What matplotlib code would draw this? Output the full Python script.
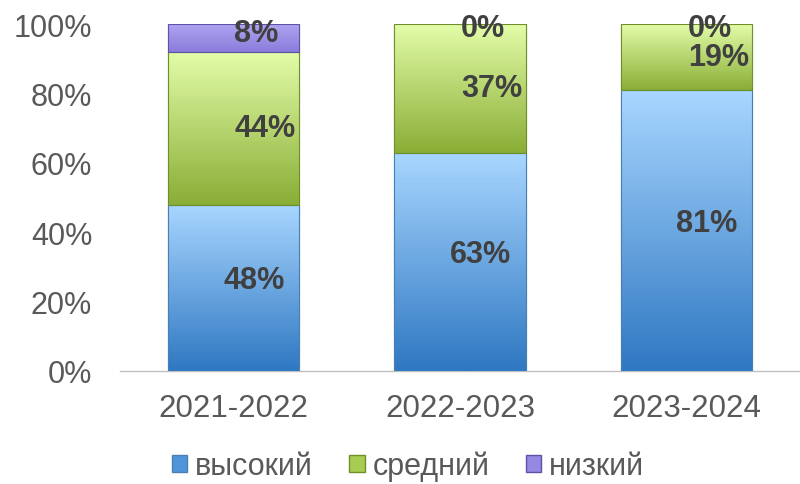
import numpy as np
import matplotlib.pyplot as plt
from matplotlib.colors import LinearSegmentedColormap
from matplotlib.patches import Patch

plt.rcParams['font.family'] = ['Liberation Sans', 'DejaVu Sans']

years = ['2021-2022', '2022-2023', '2023-2024']
high = [48, 63, 81]
mid = [44, 37, 19]
low = [8, 0, 0]
series_names = ['высокий', 'средний', 'низкий']

# gradient top -> bottom colours per series
grads = {
    'высокий': ('#a8d6ff', '#2f78c2'),
    'средний': ('#e2fca8', '#8aae36'),
    'низкий': ('#aea4f0', '#8a7cdc'),
}
edges = {'высокий': '#4a7fb5', 'средний': '#6f8f2a', 'низкий': '#5e52a8'}
solid = {'высокий': '#4f95d8', 'средний': '#a9cc55', 'низкий': '#9488e2'}
txt = '#595959'

fig = plt.figure(figsize=(8, 4.85), dpi=100)
ax = fig.add_axes([0.15, 0.233, 0.85, 0.715])

x = np.arange(len(years))
width = 0.58
bottom = np.zeros(len(years))
for name, vals in zip(series_names, [high, mid, low]):
    vals = np.array(vals, dtype=float)
    bars = ax.bar(x, vals, width, bottom=bottom, color=solid[name],
                  edgecolor=edges[name], linewidth=0.8, zorder=2)
    cmap = LinearSegmentedColormap.from_list(name, [grads[name][1], grads[name][0]])
    for b in bars:
        if b.get_height() <= 0:
            continue
        x0, y0 = b.get_x(), b.get_y()
        g = np.linspace(0, 1, 100).reshape(-1, 1)
        im = ax.imshow(g, cmap=cmap, origin='lower', aspect='auto',
                       extent=(x0, x0 + b.get_width(), y0, y0 + b.get_height()),
                       zorder=3)
        im.set_clip_path(b)
        ax.add_patch(plt.Rectangle((x0, y0), b.get_width(), b.get_height(),
                                   fill=False, edgecolor=edges[name], lw=0.8, zorder=4))
    bottom += vals

# data labels (Excel-like, slightly right of centre)
offsets = {'высокий': 0.09, 'средний': 0.14, 'низкий': 0.1}
bottom = np.zeros(len(years))
for name, vals in zip(series_names, [high, mid, low]):
    for i, v in enumerate(vals):
        yc = bottom[i] + v / 2
        if name == 'высокий':
            yc += 2.2
        if name == 'низкий':
            yc = 99 if v == 0 else yc + 1.5
        ax.text(x[i] + offsets[name], yc, f'{v}%', ha='center', va='center',
                fontsize=22, fontweight='bold', color='#404040', zorder=5,
                clip_on=False)
    bottom += np.array(vals)

ax.set_xlim(-0.5, 2.5)
ax.set_ylim(0, 100)
ax.set_yticks([0, 20, 40, 60, 80, 100])
ax.set_yticklabels([f'{t}%' for t in [0, 20, 40, 60, 80, 100]])
ax.set_xticks(x)
ax.set_xticklabels(years)
ax.tick_params(axis='y', length=0, labelsize=22, colors=txt, pad=20)
ax.tick_params(axis='x', length=0, labelsize=22.5, colors=txt, pad=16)
for s in ['top', 'right', 'left']:
    ax.spines[s].set_visible(False)
ax.spines['bottom'].set_color('#bfbfbf')
ax.spines['bottom'].set_linewidth(1)

handles = [Patch(facecolor=solid[n], edgecolor=edges[n]) for n in series_names]
fig.legend(handles, series_names, loc='center', bbox_to_anchor=(0.51, 0.037),
           ncol=3, frameon=False, fontsize=22, handlelength=0.5, handleheight=0.5,
           handletextpad=0.25, columnspacing=1.2, labelcolor=txt)

fig.savefig('out.png', dpi=100)
